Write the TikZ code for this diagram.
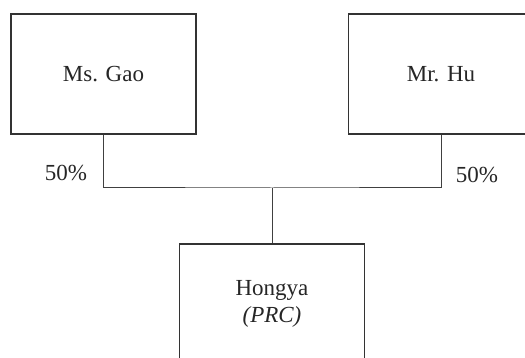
\documentclass[tikz,border=0pt]{standalone}
\usepackage{fontspec}
\setmainfont{Liberation Serif}
\usetikzlibrary{positioning}

\tikzset{
    owner/.style={draw=black!80, line width=0.7pt, fill=white, minimum width=92.5pt, minimum height=60pt, inner sep=0pt, align=center, font=\fontsize{11.5}{13.5}\selectfont, text=black!85},
    share/.style={font=\fontsize{11.5}{13.5}\selectfont, text=black!85, inner sep=0pt},
    link/.style={draw=black!75, line width=0.5pt}
}

\begin{document}
\begin{tikzpicture}[x=0.5pt, y=-0.5pt]
    \useasboundingbox (0,0) rectangle (525,358);
    \clip (0,0) rectangle (525,358);

    \node[owner] (gao) at (103.5,74) {Ms. Gao};
    \node[owner] (hu) at (441,74) {Mr. Hu};
    \node[owner] (hongya) at (272,304) {Hongya\\\textit{(PRC)}};

    \node[share] (gaoshare) at (66,173) {50\%};
    \node[share] (hushare) at (477,175) {50\%};

    \coordinate (join) at (272,188);
    \draw[link] (gao.south) |- (join) -| (hu.south);
    \draw[link] (join) -- (hongya.north);

\end{tikzpicture}
\end{document}
